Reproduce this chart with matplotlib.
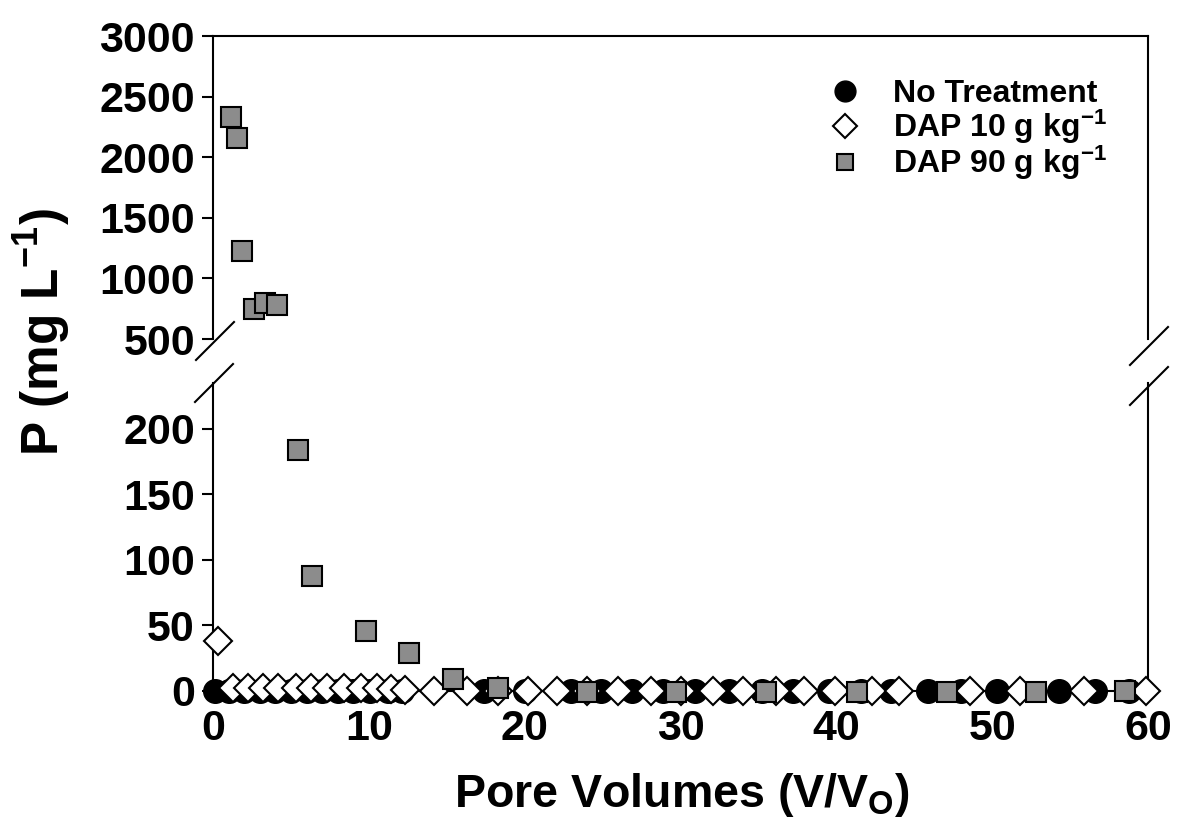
import numpy as np
import matplotlib
matplotlib.use("Agg")
import matplotlib.pyplot as plt

plt.rcParams['font.family'] = ['Liberation Sans', 'DejaVu Sans']
plt.rcParams['font.weight'] = 'bold'
plt.rcParams['mathtext.fontset'] = 'custom'
plt.rcParams['mathtext.rm'] = 'Liberation Sans:bold'
plt.rcParams['mathtext.default'] = 'rm'

# No Treatment (circles)
pv_none = [0.1, 1.0, 2.0, 3.0, 4.0, 5.0, 6.0, 7.0, 8.0, 9.0, 10.1, 11.2, 12.1,
           17.4, 20.0, 23.0, 24.9, 26.9, 28.9, 30.9, 33.1, 35.2, 37.2, 39.5,
           41.6, 43.5, 45.9, 48.0, 50.3, 54.3, 56.6, 58.8]
p_none = [0] * len(pv_none)

# DAP 10 g/kg (diamonds)
pv_dap10 = [0.3, 1.3, 2.25, 3.2, 4.2, 5.3, 6.3, 7.3, 8.4, 9.5, 10.5, 11.4, 12.3,
            14.2, 16.3, 18.3, 20.2, 22.1, 24.0, 26.0, 28.1, 30.0, 32.1, 34.0,
            36.1, 37.9, 39.9, 42.3, 44.0, 48.6, 51.8, 55.9, 59.9]
p_dap10 = [38, 2.5, 2.5, 2.5, 2.5, 2.5, 2.5, 2.5, 2.5, 2, 2, 1.5, 1,
           0, 0, 0, 0, 0, 0, 0, 0, 0, 0, 0,
           0, 0, 0, 0, 0, 0, 0, 0, 0]

# DAP 90 g/kg (squares)
pv_dap90 = [1.16, 1.54, 1.87, 2.6, 3.35, 4.1, 5.47, 6.37, 9.84, 12.6, 15.4,
            18.3, 24.0, 29.7, 35.5, 41.3, 47.1, 52.8, 58.5]
p_dap90 = [2330, 2155, 1230, 745, 800, 780, 184, 88, 46, 29, 9,
           2, -1, -1, -1, -1, -1, -1, 0]

labels = ['No Treatment', 'DAP 10 g kg$^{-1}$', 'DAP 90 g kg$^{-1}$']
upper_ticks = [500, 1000, 1500, 2000, 2500, 3000]
lower_ticks = [0, 50, 100, 150, 200]
x_ticks = [0, 10, 20, 30, 40, 50, 60]

W, H = 1183, 838
fig = plt.figure(figsize=(W / 100, H / 100), dpi=100)

left, right = 213 / W, 1148 / W
ax_hi = fig.add_axes([left, 1 - 339 / H, right - left, (339 - 36) / H])
ax_lo = fig.add_axes([left, 1 - 691 / H, right - left, (691 - 383) / H])

styles = [
    dict(marker='o', ms=17, mfc='black', mec='black', mew=1),
    dict(marker='D', ms=14, mfc='white', mec='black', mew=1.5),
    dict(marker='s', ms=15, mfc='#8c8c8c', mec='black', mew=1.5),
]
series = [(pv_none, p_none), (pv_dap10, p_dap10), (pv_dap90, p_dap90)]

for (xs, ys), st in zip(series, styles):
    xs = np.array(xs)
    ys = np.array(ys)
    hi = ys >= 500
    ax_hi.plot(xs[hi], ys[hi], ls='none', clip_on=False, zorder=3, **st)
    ax_lo.plot(xs[~hi], ys[~hi], ls='none', clip_on=False, zorder=3, **st)

ax_hi.set_ylim(500, 3000)
ax_lo.set_ylim(0, 235)
for ax in (ax_hi, ax_lo):
    ax.set_xlim(0, 60)
    for s in ax.spines.values():
        s.set_linewidth(1.5)
    ax.tick_params(axis='y', direction='out', length=8, width=1.5, labelsize=31, pad=5)

ax_hi.set_yticks(upper_ticks)
ax_hi.spines['bottom'].set_visible(False)
ax_hi.set_xticks([])

ax_lo.set_yticks(lower_ticks)
ax_lo.spines['top'].set_visible(False)
ax_lo.set_xticks(x_ticks)
ax_lo.tick_params(axis='x', length=0, labelsize=31, pad=13)

# break marks
def slash(xc, yc):
    fig.add_artist(plt.Line2D([(xc - 19) / W, (xc + 19) / W],
                              [1 - (yc + 19) / H, 1 - (yc - 19) / H],
                              color='black', lw=1.5))

slash(215, 341)
slash(214, 383)
slash(1149, 346)
slash(1149, 386)

fig.text(42 / W, 1 - 332 / H, 'P (mg L$^{-1}$)', rotation=90, ha='center', va='center',
         fontsize=37, fontweight='bold')
fig.text(682 / W, 1 - 795 / H, 'Pore Volumes (V/V$_\\mathrm{O}$)', ha='center', va='center',
         fontsize=33.5, fontweight='bold')

# legend, drawn by hand
leg_y = [91, 126, 162]
leg_ms = [15, 12, 11]
for st, lab, yy, ms in zip(styles, labels, leg_y, leg_ms):
    st = dict(st, ms=ms)
    fig.add_artist(plt.Line2D([845 / W], [1 - yy / H], ls='none', **st))
    fig.text(893 / W, 1 - (yy + 11) / H, lab, ha='left', va='baseline',
             fontsize=23, fontweight='bold')

fig.savefig('out.png', dpi=100)
